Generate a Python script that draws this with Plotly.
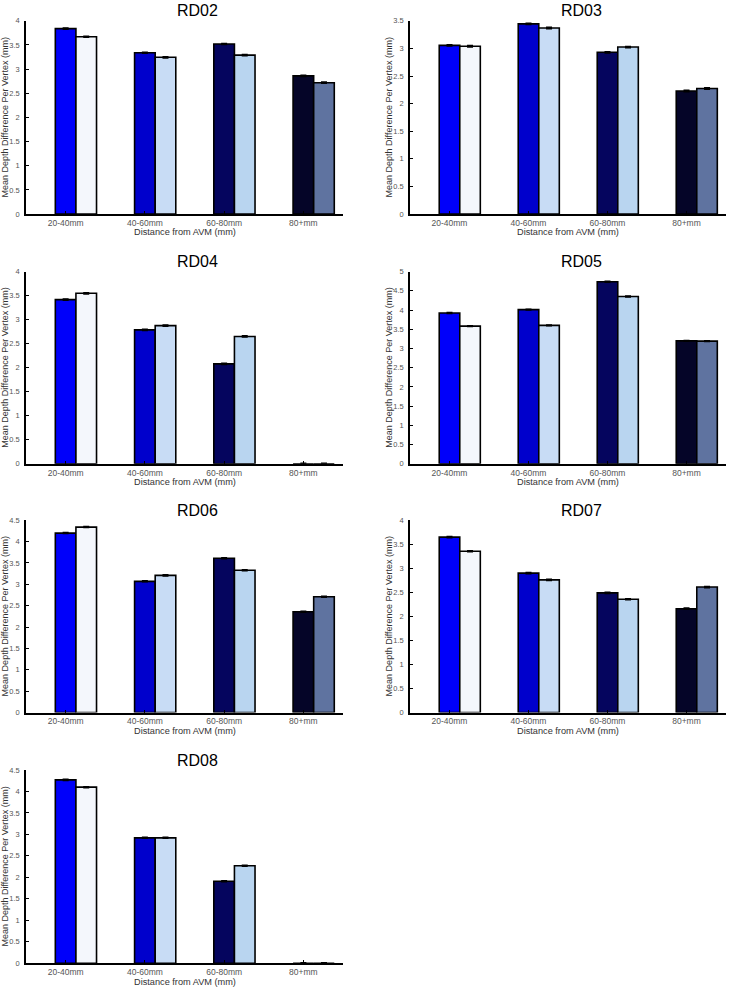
import plotly.graph_objects as go

W, H = 729, 992

categories = ["20-40mm", "40-60mm", "60-80mm", "80+mm"]
titles = ["RD02", "RD03", "RD04", "RD05", "RD06", "RD07", "RD08"]

# Left bar of each pair (first condition) and right bar (second condition)
rd02_a = [3.84, 3.34, 3.52, 2.86]
rd02_b = [3.67, 3.245, 3.29, 2.72]
rd03_a = [3.055, 3.445, 2.93, 2.23]
rd03_b = [3.04, 3.37, 3.025, 2.275]
rd04_a = [3.415, 2.786, 2.08, 0.0]
rd04_b = [3.547, 2.875, 2.65, 0.0]
rd05_a = [3.92, 4.01, 4.735, 3.197]
rd05_b = [3.58, 3.60, 4.35, 3.19]
rd06_a = [4.20, 3.07, 3.61, 2.36]
rd06_b = [4.34, 3.21, 3.33, 2.71]
rd07_a = [3.65, 2.90, 2.49, 2.16]
rd07_b = [3.356, 2.76, 2.356, 2.61]
rd08_a = [4.27, 2.92, 1.91, 0.0]
rd08_b = [4.10, 2.92, 2.27, 0.0]

err_a = [0.012, 0.012, 0.012, 0.012]
err_b = [0.012, 0.012, 0.012, 0.012]

y_max = [4, 3.5, 4, 5, 4.5, 4, 4.5]

series_a = [rd02_a, rd03_a, rd04_a, rd05_a, rd06_a, rd07_a, rd08_a]
series_b = [rd02_b, rd03_b, rd04_b, rd05_b, rd06_b, rd07_b, rd08_b]

colors_a = ["#0000fa", "#0000cc", "#05055e", "#050528"]
colors_b = ["#f4f7fc", "#c8dcf5", "#b9d5f0", "#5f73a0"]

# panel pixel boxes: (x0, x1, ytop, ybottom)
col_x = [(26, 343), (410, 726)]
row_y = [(17, 212), (270, 464), (521, 715), (773, 968)]

FONT = "Liberation Sans, Arial, sans-serif"

fig = go.Figure()
layout = dict(
    width=W, height=H,
    margin=dict(l=0, r=0, t=0, b=0),
    paper_bgcolor="white", plot_bgcolor="white",
    showlegend=False, barmode="overlay",
    font=dict(family=FONT, size=9, color="#444"),
    annotations=[],
)

def px_x(x):
    return x / W

def px_y(y):
    return 1 - y / H

for i, name in enumerate(titles):
    r, c = divmod(i, 2)
    x0, x1 = col_x[c]
    yt, yb = row_y[r]
    idx = i + 1
    xa = "x" if idx == 1 else f"x{idx}"
    ya = "y" if idx == 1 else f"y{idx}"
    for vals, errs, cols, off in ((series_a[i], err_a, colors_a, -0.13),
                                  (series_b[i], err_b, colors_b, 0.13)):
        fig.add_trace(go.Bar(
            x=categories, y=vals, xaxis=xa, yaxis=ya,
            width=0.26, offset=off,
            marker=dict(color=cols, line=dict(color="black", width=1.6)),
            error_y=dict(type="data", array=errs, color="black", thickness=1.5, width=3),
        ))
    layout["xaxis" if idx == 1 else f"xaxis{idx}"] = dict(
        domain=[px_x(x0), px_x(x1)], anchor=ya,
        type="category", range=[-0.5, 3.5],
        showline=True, linecolor="black", linewidth=1.5,
        ticks="inside", ticklen=3, tickwidth=1.2, tickcolor="black",
        tickfont=dict(size=8.5, color="#555"), showgrid=False, zeroline=False,
        fixedrange=True,
    )
    layout["yaxis" if idx == 1 else f"yaxis{idx}"] = dict(
        domain=[px_y(yb), px_y(yt)], anchor=xa,
        range=[0, y_max[i]], dtick=0.5, tick0=0,
        showline=True, linecolor="black", linewidth=1.5,
        ticks="inside", ticklen=3, tickwidth=1.2, tickcolor="black",
        tickfont=dict(size=7.5, color="#555"), ticklabelstandoff=3,
        showgrid=False, zeroline=False, fixedrange=True,
    )
    # panel title
    layout["annotations"].append(dict(
        text=name, x=px_x((x0 + x1) / 2 + 13), y=px_y(yt - 10),
        xref="paper", yref="paper", showarrow=False,
        xanchor="center", yanchor="middle",
        font=dict(size=16, color="black", family=FONT),
    ))
    # x-axis title
    layout["annotations"].append(dict(
        text="Distance from AVM (mm)", x=px_x((x0 + x1) / 2), y=px_y(yb + 18.5),
        xref="paper", yref="paper", showarrow=False,
        xanchor="center", yanchor="middle",
        font=dict(size=9.2, color="#333", family=FONT),
    ))
    # y-axis title
    layout["annotations"].append(dict(
        text="Mean Depth Difference Per Vertex (mm)",
        x=px_x(x0 - 21), y=px_y((yt + yb) / 2),
        xref="paper", yref="paper", showarrow=False, textangle=-90,
        xanchor="center", yanchor="middle",
        font=dict(size=9, color="#333", family=FONT),
    ))

fig.update_layout(**layout)
fig.write_html(
    "out.html",
    config={"displayModeBar": False},
    post_script="document.body.style.margin='0';document.body.style.padding='0';",
)
